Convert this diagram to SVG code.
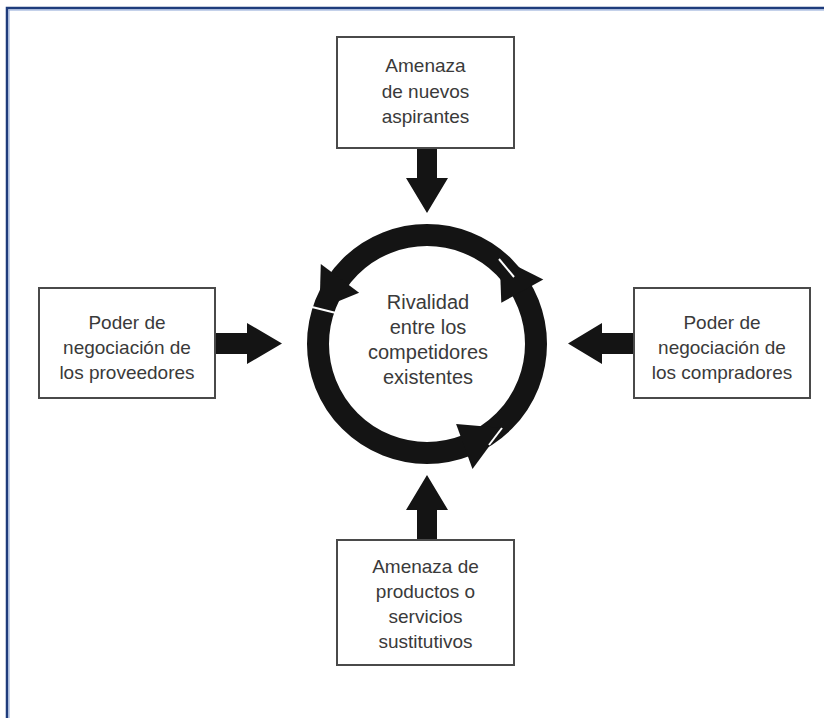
<svg xmlns="http://www.w3.org/2000/svg" width="824" height="718" viewBox="0 0 824 718">
<style>
.box{fill:#ffffff;stroke:#4a4a4a;stroke-width:2}
.t{font-family:"Liberation Sans",Arial,sans-serif;font-size:19px;fill:#3a3a3a;text-anchor:middle}
.c{font-size:20px}
.arr{fill:#141414}
.gap{stroke:#ffffff;stroke-width:2;fill:none}
</style>
<rect x="0" y="0" width="824" height="718" fill="#ffffff"/>
<g id="frame">
<rect x="7" y="8" width="840" height="730" fill="none" stroke="#1f3c7c" stroke-width="2.5"/>
<rect x="9" y="10" width="836" height="726" fill="none" stroke="#8aa4d6" stroke-width="1"/>
</g>
<g id="connectors">
<polygon class="arr" points="417,148 437,148 437,178 448,178 427,213 406,178 417,178"/>
<polygon class="arr" points="417,540 437,540 437,510 448,510 427,475 406,510 417,510"/>
<polygon class="arr" points="215,333 247,333 247,323 282,343.5 247,364 247,354 215,354"/>
<polygon class="arr" points="634,333 602,333 602,323 568,343.5 602,364 602,354 634,354"/>
</g>
<g id="rivalidad">
<circle cx="427" cy="344" r="109" fill="none" stroke="#141414" stroke-width="22"/>
<polygon class="arr" points="359.1,292.8 320.8,264.0 319.5,309.1"/>
<polygon class="arr" points="501.3,302.8 543.3,279.5 499.6,257.4"/>
<polygon class="arr" points="456.1,423.9 472.5,469.0 502.6,428.0"/>
<line class="gap" x1="312" y1="307" x2="336" y2="313"/>
<line class="gap" x1="499" y1="259" x2="514" y2="277"/>
<line class="gap" x1="502" y1="428" x2="489" y2="445"/>
<text class="t c" x="428" y="309">Rivalidad</text>
<text class="t c" x="428" y="334">entre los</text>
<text class="t c" x="428" y="359">competidores</text>
<text class="t c" x="428" y="384">existentes</text>
</g>
<g id="aspirantes">
<rect class="box" x="337" y="37" width="177" height="111"/>
<text class="t" x="425.5" y="72">Amenaza</text>
<text class="t" x="425.5" y="98">de nuevos</text>
<text class="t" x="425.5" y="123">aspirantes</text>
</g>
<g id="proveedores">
<rect class="box" x="39" y="288" width="176" height="110"/>
<text class="t" x="127" y="329">Poder de</text>
<text class="t" x="127" y="354">negociación de</text>
<text class="t" x="127" y="379">los proveedores</text>
</g>
<g id="compradores">
<rect class="box" x="634" y="288" width="176" height="110"/>
<text class="t" x="722" y="329">Poder de</text>
<text class="t" x="722" y="354">negociación de</text>
<text class="t" x="722" y="379">los compradores</text>
</g>
<g id="sustitutivos">
<rect class="box" x="337" y="540" width="177" height="125"/>
<text class="t" x="425.5" y="573">Amenaza de</text>
<text class="t" x="425.5" y="598">productos o</text>
<text class="t" x="425.5" y="623">servicios</text>
<text class="t" x="425.5" y="648">sustitutivos</text>
</g>
</svg>
